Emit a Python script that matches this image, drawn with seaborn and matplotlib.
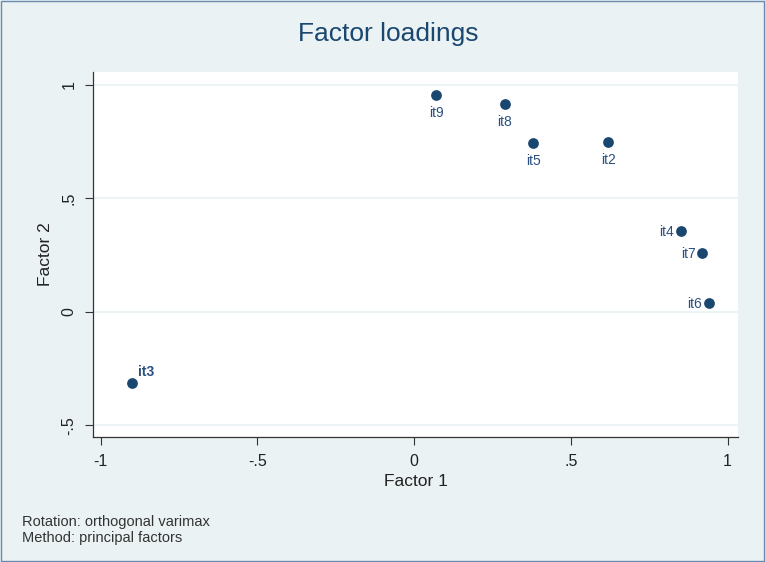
import matplotlib
matplotlib.use("Agg")
import matplotlib.pyplot as plt
import seaborn as sns
import pandas as pd

# Loadings
items = ["it2", "it3", "it4", "it5", "it6", "it7", "it8", "it9"]
factor1 = [0.62, -0.90, 0.85, 0.38, 0.94, 0.92, 0.29, 0.07]
factor2 = [0.748, -0.313, 0.355, 0.743, 0.04, 0.26, 0.915, 0.955]
label_pos = ["below", "ur", "left", "below", "left", "left", "below", "below"]

xticks = [-1, -0.5, 0, 0.5, 1]
xticklabels = ["-1", "-.5", "0", ".5", "1"]
yticks = [-0.5, 0, 0.5, 1]
yticklabels = ["-.5", "0", ".5", "1"]

df = pd.DataFrame({"item": items, "f1": factor1, "f2": factor2, "pos": label_pos})

sns.set_style("white")
plt.rcParams["font.family"] = ["Liberation Sans", "DejaVu Sans"]

navy = "#1a476f"
bg = "#eaf2f3"

fig = plt.figure(figsize=(7.65, 5.62), dpi=100, facecolor=bg)
ax = fig.add_axes([0.1216, 0.2224, 0.843, 0.6495])
ax.set_facecolor("white")

sns.scatterplot(data=df, x="f1", y="f2", color=navy, s=60, edgecolor=navy,
                linewidth=0, ax=ax, zorder=3)

for _, r in df.iterrows():
    if r["pos"] == "below":
        ax.annotate(r["item"], (r["f1"], r["f2"]), xytext=(0, -18),
                    textcoords="offset pixels", ha="center", va="center",
                    color="#2a4f7f", fontsize=10)
    elif r["pos"] == "left":
        ax.annotate(r["item"], (r["f1"], r["f2"]), xytext=(-7, -1),
                    textcoords="offset pixels", ha="right", va="center",
                    color="#2a4f7f", fontsize=10)
    else:
        ax.annotate(r["item"], (r["f1"], r["f2"]), xytext=(6, 11),
                    textcoords="offset pixels", ha="left", va="center",
                    color="#2a4f7f", fontsize=10, fontweight="semibold")

ax.set_xlim(-1.024, 1.033)
ax.set_ylim(-0.551, 1.057)
ax.set_xticks(xticks)
ax.set_xticklabels(xticklabels)
ax.set_yticks(yticks)
ax.set_yticklabels(yticklabels, rotation=90, va="center")
ax.tick_params(axis="both", direction="out", length=6, width=0.8,
               color="#333333", labelsize=11.5, labelcolor="#222222", pad=6)
ax.tick_params(axis="both", bottom=True, left=True)

for y in yticks:
    ax.axhline(y, color=bg, linewidth=1.2, zorder=1)

for side in ["top", "right"]:
    ax.spines[side].set_visible(False)
for side in ["left", "bottom"]:
    ax.spines[side].set_color("#333333")
    ax.spines[side].set_linewidth(0.9)

ax.set_xlabel("Factor 1", fontsize=12.5, color="#222222", labelpad=4)
ax.set_ylabel("Factor 2", fontsize=12.5, color="#222222", labelpad=6)

fig.text(0.507, 0.94, "Factor loadings", ha="center", va="center",
         fontsize=19, color=navy)
fig.text(0.029, 0.057, "Rotation: orthogonal varimax\nMethod: principal factors",
         ha="left", va="center", fontsize=10.5, color="#333333", linespacing=1.1)

# thin frame round the graph region
fig.patches.append(plt.Rectangle((0.001, 0.001), 0.998, 0.998, transform=fig.transFigure,
                                 fill=False, edgecolor="#6a8bb0", linewidth=1.0))

fig.savefig("out.png", dpi=100, facecolor=bg)
